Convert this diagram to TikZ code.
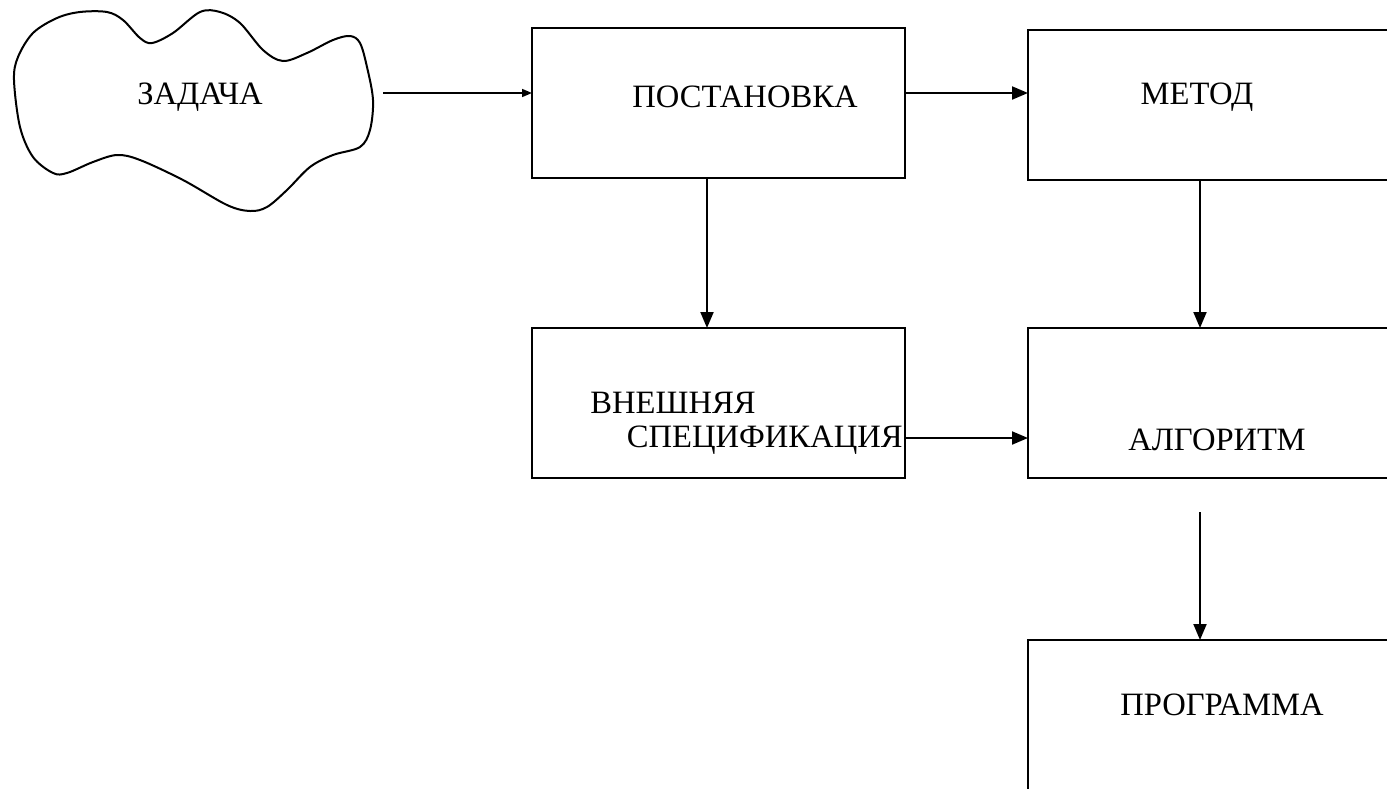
\documentclass[tikz,border=0pt]{standalone}
\usepackage{fontspec}
\setmainfont{Liberation Serif}
\usetikzlibrary{arrows.meta}
\begin{document}
\begin{tikzpicture}[x=0.5pt,y=-0.5pt,
  box/.style={draw,line width=1pt},
  lbl/.style={font=\fontsize{16.3}{18}\selectfont,inner sep=0pt,anchor=center},
  arr/.style={-{Triangle[length=8pt,width=6.5pt]},line width=1pt},
  sarr/.style={-{Triangle[length=5pt,width=4pt]},line width=0.8pt}]
\useasboundingbox (0,0) rectangle (1387,788);
\clip (0,0) rectangle (1387,788);
% cloud
\draw[line width=1pt] plot[smooth cycle,tension=0.55] coordinates {
 (14,80) (18,57) (33,33) (57,18) (80,12) (107,12) (123,20) (140,38) (152,43)
 (173,33) (200,12) (220,12) (240,23) (263,50) (283,61) (307,53) (333,40)
 (350,36) (360,43) (367,67) (373,100) (370,130) (360,147) (333,155) (310,167)
 (287,190) (267,207) (250,211) (227,205) (183,180) (140,160) (117,155) (93,162)
 (67,173) (53,173) (33,157) (20,127)};
\node[lbl] (zad) at (200,97) {ЗАДАЧА};
\coordinate (cl) at (383,93);
% boxes
\draw[box] (532,28) rectangle (905,178);
\coordinate (postL) at (532,93); \coordinate (postR) at (905,93); \coordinate (postB) at (707,178);
\node[lbl] (post) at (745,97) {ПОСТАНОВКА};
\draw[box] (1028,30) rectangle (1420,180);
\coordinate (metL) at (1028,93); \coordinate (metB) at (1200,180);
\node[lbl] (met) at (1197,97) {МЕТОД};
\draw[box] (532,328) rectangle (905,478);
\coordinate (vnT) at (707,328); \coordinate (vnR) at (905,438);
\node[lbl,anchor=west] (vn1) at (590,403) {ВНЕШНЯЯ};
\node[lbl,anchor=east] (vn2) at (903,440) {СПЕЦИФИКАЦИЯ};
\draw[box] (1028,328) rectangle (1420,478);
\coordinate (alT) at (1200,328); \coordinate (alL) at (1028,438); \coordinate (alB) at (1200,512);
\node[lbl] (alg) at (1217,440) {АЛГОРИТМ};
\draw[box] (1028,640) rectangle (1420,820);
\coordinate (prT) at (1200,640);
\node[lbl] (prog) at (1222,705) {ПРОГРАММА};
% connectors
\draw[sarr] (cl) -- (postL);
\draw[arr] (postR) -- (metL);
\draw[arr] (postB) -- (vnT);
\draw[arr] (metB) -- (alT);
\draw[arr] (vnR) -- (alL);
\draw[arr] (alB) -- (prT);
\end{tikzpicture}
\end{document}
